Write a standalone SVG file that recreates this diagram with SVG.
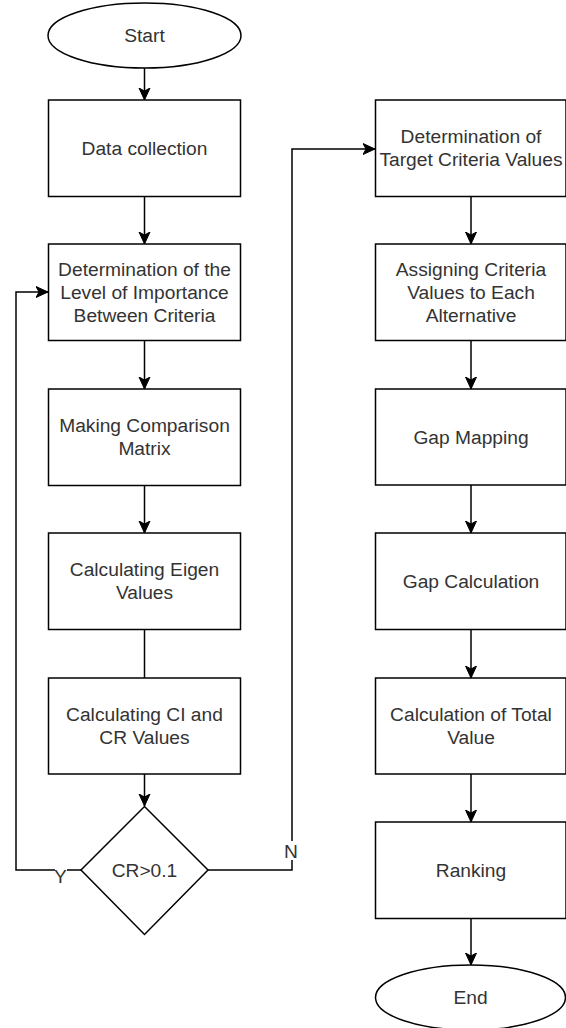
<svg xmlns="http://www.w3.org/2000/svg" width="566" height="1028" viewBox="0 0 566 1028">
<style>
.s{fill:#fff;stroke:#000;stroke-width:1.5}
.c{fill:none;stroke:#000;stroke-width:1.5}
.t{font-family:"Liberation Sans",Arial,sans-serif;font-size:19.2px;fill:#333;text-anchor:middle}
</style>
<defs>
<marker id="ar" markerUnits="userSpaceOnUse" markerWidth="14" markerHeight="13" refX="12" refY="6.5" orient="auto">
<path d="M0,1 L12,6.5 L0,12 L3,6.5 Z" fill="#000" stroke="#000" stroke-width="1"/>
</marker>
</defs>
<g id="connectors">
<path class="c" d="M144.5,68 V100" marker-end="url(#ar)"/>
<path class="c" d="M144.5,196.5 V244" marker-end="url(#ar)"/>
<path class="c" d="M144.5,340.5 V389" marker-end="url(#ar)"/>
<path class="c" d="M144.5,485.5 V533" marker-end="url(#ar)"/>
<path class="c" d="M144.5,629.5 V678"/>
<path class="c" d="M144.5,774 V806" marker-end="url(#ar)"/>
<path class="c" d="M81,870 H16 V292 H48" marker-end="url(#ar)"/>
<path class="c" d="M208,870 H292 V149 H375" marker-end="url(#ar)"/>
<path class="c" d="M471,196.5 V244" marker-end="url(#ar)"/>
<path class="c" d="M471,340.5 V389" marker-end="url(#ar)"/>
<path class="c" d="M471,485 V533" marker-end="url(#ar)"/>
<path class="c" d="M471,629.5 V678" marker-end="url(#ar)"/>
<path class="c" d="M471,774 V822" marker-end="url(#ar)"/>
<path class="c" d="M471,918.5 V965" marker-end="url(#ar)"/>
<rect x="55" y="866" width="12" height="19" fill="#fff"/>
<text class="t" x="60.5" y="883">Y</text>
<rect x="284" y="841" width="15" height="19" fill="#fff"/>
<text class="t" x="291" y="857.5">N</text>
</g>
<g id="start">
<ellipse class="s" cx="144.5" cy="35.5" rx="96.5" ry="32.5"/>
<text class="t" x="144.5" y="42">Start</text>
</g>
<g id="data">
<rect class="s" x="48.5" y="100" width="192" height="96.5"/>
<text class="t" x="144.5" y="154.5">Data collection</text>
</g>
<g id="importance">
<rect class="s" x="48.5" y="244" width="192" height="96.5"/>
<text class="t" x="144.5" y="275.5">Determination of the</text>
<text class="t" x="144.5" y="298.5">Level of Importance</text>
<text class="t" x="144.5" y="321.5">Between Criteria</text>
</g>
<g id="matrix">
<rect class="s" x="48.5" y="389" width="192" height="96.5"/>
<text class="t" x="144.5" y="432">Making Comparison</text>
<text class="t" x="144.5" y="455">Matrix</text>
</g>
<g id="eigen">
<rect class="s" x="48.5" y="533" width="192" height="96.5"/>
<text class="t" x="144.5" y="576">Calculating Eigen</text>
<text class="t" x="144.5" y="599">Values</text>
</g>
<g id="cicr">
<rect class="s" x="48.5" y="678" width="192" height="96"/>
<text class="t" x="144.5" y="721">Calculating CI and</text>
<text class="t" x="144.5" y="744">CR Values</text>
</g>
<g id="decision">
<path class="s" d="M144.5,806.5 L208,870 L144.5,934.5 L81,870 Z"/>
<text class="t" x="144.5" y="877">CR&gt;0.1</text>
</g>
<g id="target">
<rect class="s" x="375.5" y="100" width="190.5" height="96.5"/>
<text class="t" x="471" y="143">Determination of</text>
<text class="t" x="471" y="166">Target Criteria Values</text>
</g>
<g id="assign">
<rect class="s" x="375.5" y="244" width="190.5" height="96.5"/>
<text class="t" x="471" y="275.5">Assigning Criteria</text>
<text class="t" x="471" y="298.5">Values to Each</text>
<text class="t" x="471" y="321.5">Alternative</text>
</g>
<g id="gapmap">
<rect class="s" x="375.5" y="389" width="190.5" height="96"/>
<text class="t" x="471" y="443.5">Gap Mapping</text>
</g>
<g id="gapcalc">
<rect class="s" x="375.5" y="533" width="190.5" height="96.5"/>
<text class="t" x="471" y="587.5">Gap Calculation</text>
</g>
<g id="total">
<rect class="s" x="375.5" y="678" width="190.5" height="96"/>
<text class="t" x="471" y="721">Calculation of Total</text>
<text class="t" x="471" y="744">Value</text>
</g>
<g id="ranking">
<rect class="s" x="375.5" y="822" width="190.5" height="96.5"/>
<text class="t" x="471" y="876.5">Ranking</text>
</g>
<g id="end">
<ellipse class="s" cx="470.5" cy="997.5" rx="95" ry="32.5"/>
<text class="t" x="470.5" y="1004">End</text>
</g>
</svg>
